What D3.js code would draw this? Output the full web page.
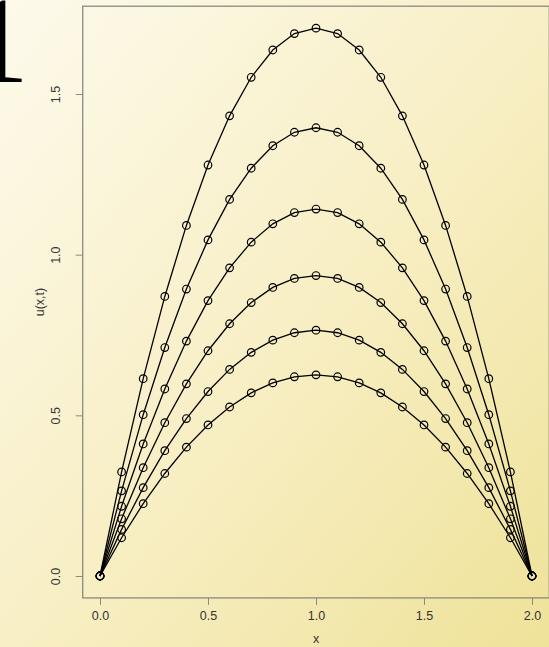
<!DOCTYPE html>
<html><head><meta charset="utf-8">
<script src="https://cdn.jsdelivr.net/npm/d3@7"></script>
<style>html,body{margin:0;padding:0;overflow:hidden;}svg{display:block;}</style>
</head><body>
<svg id="c" width="549" height="647"></svg>
<script>
const xs = [0,0.1,0.2,0.3,0.4,0.5,0.6,0.7,0.8,0.9,1.0,1.1,1.2,1.3,1.4,1.5,1.6,1.7,1.8,1.9,2.0];
const u1 = [0,0.324,0.614,0.870,1.091,1.279,1.432,1.552,1.637,1.688,1.705,1.688,1.637,1.552,1.432,1.279,1.091,0.870,0.614,0.324,0];
const u2 = [0,0.265,0.502,0.711,0.893,1.046,1.172,1.269,1.339,1.381,1.395,1.381,1.339,1.269,1.172,1.046,0.893,0.711,0.502,0.265,0];
const u3 = [0,0.217,0.411,0.582,0.731,0.857,0.959,1.039,1.096,1.131,1.142,1.131,1.096,1.039,0.959,0.857,0.731,0.582,0.411,0.217,0];
const u4 = [0,0.178,0.337,0.477,0.598,0.701,0.785,0.851,0.898,0.926,0.935,0.926,0.898,0.851,0.785,0.701,0.598,0.477,0.337,0.178,0];
const u5 = [0,0.145,0.275,0.390,0.490,0.574,0.643,0.696,0.734,0.757,0.765,0.757,0.734,0.696,0.643,0.574,0.490,0.390,0.275,0.145,0];
const u6 = [0,0.119,0.225,0.319,0.401,0.470,0.526,0.570,0.601,0.620,0.626,0.620,0.601,0.570,0.526,0.470,0.401,0.319,0.225,0.119,0];
const series = [u1,u2,u3,u4,u5,u6];
const xTicks = [0,0.5,1.0,1.5,2.0];
const yTicks = [0,0.5,1.0,1.5];

const svg = d3.select("#c");
const defs = svg.append("defs");
const g = defs.append("linearGradient").attr("id","bg")
  .attr("x1","0").attr("y1","0").attr("x2","1").attr("y2","1");
g.append("stop").attr("offset","0").attr("stop-color","#fdfaec");
g.append("stop").attr("offset","0.5").attr("stop-color","#f8efc6");
g.append("stop").attr("offset","1").attr("stop-color","#efe299");
svg.append("rect").attr("width",549).attr("height",647).attr("fill","url(#bg)");

const x = d3.scaleLinear().domain([0,2]).range([100,532]);
const y = d3.scaleLinear().domain([0,1.5]).range([576,94]);
const xmin = -0.08, xmax = 2.08, ymin = -0.0682, ymax = 1.705+0.0682;

// big "1" (cut off at the left edge, as in the reference)
svg.append("text").attr("x",-32).attr("y",82)
  .attr("font-family","Liberation Serif, Times New Roman, serif")
  .attr("font-size",122).attr("fill","#000").text("1");

// box
svg.append("rect").attr("x",x(xmin)).attr("y",y(ymax))
  .attr("width",x(xmax)-x(xmin)).attr("height",y(ymin)-y(ymax))
  .attr("fill","none").attr("stroke","#8a8a80").attr("stroke-width",1.3);

const font = "Liberation Sans, Arial, sans-serif";
// x axis
const xa = svg.append("g").attr("transform",`translate(0,${y(ymin)})`)
  .call(d3.axisBottom(x).tickValues(xTicks).tickFormat(d3.format(".1f")).tickSize(7).tickPadding(6));
xa.select(".domain").remove();
xa.selectAll("line").attr("stroke","#8a8a80");
xa.selectAll("text").attr("font-family",font).attr("font-size",12.5).attr("fill","#333");
// y axis
const ya = svg.append("g").attr("transform",`translate(${x(xmin)},0)`)
  .call(d3.axisLeft(y).tickValues(yTicks).tickFormat(d3.format(".1f")).tickSize(7).tickPadding(6));
ya.select(".domain").remove();
ya.selectAll("line").attr("stroke","#8a8a80");
ya.selectAll("text").attr("font-family",font).attr("font-size",12.5).attr("fill","#333")
  .attr("text-anchor","middle").attr("dy",null)
  .attr("transform","translate(-23,0) rotate(-90)")
  .attr("x",0).attr("y",0);

svg.append("text").attr("x",(x(xmin)+x(xmax))/2).attr("y",643)
  .attr("text-anchor","middle").attr("font-family",font).attr("font-size",12.5).attr("fill","#333").text("x");
svg.append("text").attr("transform",`translate(44,${(y(ymin)+y(ymax))/2}) rotate(-90)`)
  .attr("text-anchor","middle").attr("font-family",font).attr("font-size",12.5).attr("fill","#333").text("u(x,t)");

const line = d3.line().x((d,i)=>x(xs[i])).y(d=>y(d));
const plot = svg.append("g");
series.forEach(s=>{
  plot.append("path").datum(s).attr("d",line).attr("fill","none").attr("stroke","#000").attr("stroke-width",1.3);
  plot.selectAll(null).data(s).enter().append("circle")
    .attr("cx",(d,i)=>x(xs[i])).attr("cy",d=>y(d)).attr("r",3.8)
    .attr("fill","none").attr("stroke","#000").attr("stroke-width",1.2);
});
</script>
</body></html>
